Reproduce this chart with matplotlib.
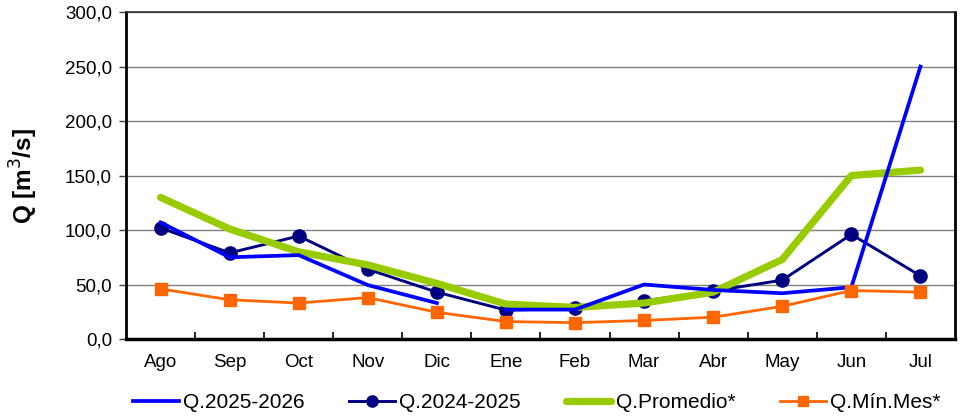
import matplotlib
matplotlib.use('Agg')
import matplotlib.pyplot as plt
from matplotlib.ticker import FuncFormatter, FixedLocator

plt.rcParams['font.family'] = ['Liberation Sans', 'DejaVu Sans']

months = ['Ago', 'Sep', 'Oct', 'Nov', 'Dic', 'Ene', 'Feb', 'Mar', 'Abr', 'May', 'Jun', 'Jul']
q_2025_2026 = [107, 75, 77, 49.5, 33, 27, 27, 50, 45, 42, 47.5, 250]
q_2025_2026_break = 5  # line is drawn in two pieces (Ago-Dic, Ene-Jul)
q_2024_2025 = [102, 79, 94.5, 64, 43, 26.5, 28, 35, 44, 54, 96, 58]
q_promedio = [130, 101, 80, 68, 51, 32, 29, 33, 43, 73, 150, 155]
q_min_mes = [46, 36, 33, 38, 24.5, 16, 15, 17, 20, 30, 44.5, 43]

fig = plt.figure(figsize=(9.6, 4.18), dpi=100)
ax = fig.add_axes([0.13125, 0.189, 0.8635, 0.782])

x = list(range(len(months)))
b = q_2025_2026_break

ax.plot(x, q_2024_2025, color='#000080', lw=2.1, marker='o', ms=9.5,
        label='Q.2024-2025', zorder=3)
ax.plot(x, q_promedio, color='#99CC00', lw=5.2, label='Q.Promedio*',
        solid_capstyle='round', zorder=4)
ax.plot(x[:b], q_2025_2026[:b], color='#0000FF', lw=2.7, label='Q.2025-2026',
        zorder=5)
ax.plot(x[b:], q_2025_2026[b:], color='#0000FF', lw=2.7, zorder=5)
ax.plot(x, q_min_mes, color='#FF6600', lw=2.0, marker='s', ms=8,
        label='Q.Mín.Mes*', zorder=6)

ax.set_xlim(-0.5, len(months) - 0.5)
ax.set_ylim(0, 300)
ax.set_yticks(range(0, 301, 50))
ax.yaxis.set_major_formatter(FuncFormatter(lambda v, p: f'{v:.1f}'.replace('.', ',')))
ax.set_xticks(x)
ax.set_xticklabels(months)
ax.xaxis.set_minor_locator(FixedLocator([i + 0.5 for i in range(len(months) - 1)]))

ax.tick_params(axis='x', which='major', length=0, pad=11, labelsize=13.5)
ax.tick_params(axis='x', which='minor', direction='in', length=5, width=1.2, color='black')
ax.tick_params(axis='y', which='major', direction='out', length=5, width=1,
               color='#404040', labelsize=13.5, pad=5)

ax.grid(axis='y', color='#808080', lw=1)
ax.set_axisbelow(True)

for side, lw, col in [('left', 2.0, 'black'), ('bottom', 2.5, 'black'),
                      ('right', 2.0, 'black'), ('top', 1.2, '#303030')]:
    ax.spines[side].set_linewidth(lw)
    ax.spines[side].set_color(col)

ax.set_ylabel('Q [m$^3$/s]', fontsize=17.5, fontweight='bold', labelpad=18)

handles, labels = ax.get_legend_handles_labels()
order = [labels.index(n) for n in ['Q.2025-2026', 'Q.2024-2025', 'Q.Promedio*', 'Q.Mín.Mes*']]
fig.legend([handles[i] for i in order], [labels[i] for i in order],
           loc='center', bbox_to_anchor=(0.559, 0.036), ncol=4, frameon=False,
           fontsize=15, handlelength=2.2, handletextpad=0.2, columnspacing=2.15,
           markerscale=0.85)

fig.savefig('out.png', dpi=100)
